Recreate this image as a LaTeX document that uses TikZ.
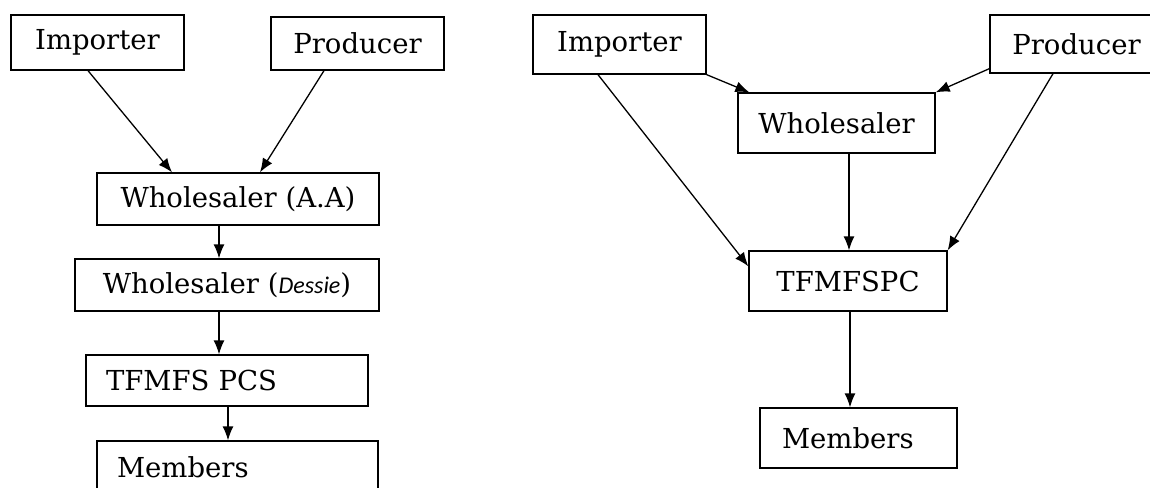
\documentclass[tikz,border=0pt]{standalone}
\usepackage{fontspec}
\setmainfont{DejaVu Serif}
\newfontfamily\carlito{Carlito}
\usetikzlibrary{arrows.meta}

\begin{document}
\begin{tikzpicture}[x=1pt, y=-1pt]

\tikzset{box/.style = {shape=rectangle, draw, line width=1.3pt, inner sep=0pt, font=\fontsize{27.5}{30}\selectfont}}
\tikzset{lbox/.style = {box, align=left, inner xsep=20pt}}
\tikzset{edge/.style = {-{Latex[length=14pt,width=11pt]}, line width=1.3pt}}

\useasboundingbox (0,0) rectangle (1150,487);
\clip (0,0) rectangle (1150,487);

%verticies (left chain)
\node[box, minimum width=173pt, minimum height=55pt] (imp1) at (97.5,42.5) {Importer};
\node[box, minimum width=173pt, minimum height=53pt] (prod1) at (357.5,43.5) {Producer};
\node[box, minimum width=282pt, minimum height=52pt] (whA) at (238,199) {Wholesaler (A.A)};
\node[box, minimum width=304pt, minimum height=52pt] (whD) at (227,285) {Wholesaler ({\carlito\itshape\fontsize{24}{26}\selectfont Dessie})};
\node[lbox, text width=242pt, minimum height=51pt] (pcs) at (227,380.5) {TFMFS PCS};
\node[lbox, text width=241pt, minimum height=52pt] (mem1) at (237.5,467) {Members};

%verticies (right net)
\node[box, minimum width=173pt, minimum height=59pt] (imp2) at (619.5,44.5) {Importer};
\node[box, minimum width=173pt, minimum height=58pt] (prod2) at (1076.5,44) {Producer};
\node[box, minimum width=197pt, minimum height=60pt] (wh2) at (836.5,123) {Wholesaler};
\node[box, minimum width=198pt, minimum height=60pt] (tf) at (848,281) {TFMFSPC};
\node[lbox, inner xsep=22pt, text width=153pt, minimum height=60pt] (mem2) at (858.5,438) {Members};

%edges (left)
\draw[edge] ([xshift=-9.5pt]imp1.south) -- ([xshift=-66pt]whA.north);
\draw[edge] ([xshift=-33.5pt]prod1.south) -- ([xshift=22pt]whA.north);
\draw[edge] ([xshift=-19pt]whA.south) -- ([xshift=-19pt]whA.south |- whD.north);
\draw[edge] ([xshift=-8pt]whD.south) -- ([xshift=-8pt]whD.south |- pcs.north);
\draw[edge] ([xshift=1pt]pcs.south) -- ([xshift=1pt]pcs.south |- mem1.north);

%edges (right)
\draw[edge] (imp2.south east) -- ([xshift=12pt]wh2.north west);
\draw[edge] ([yshift=5pt]prod2.south west) -- (wh2.north east);
\draw[edge] ([xshift=-21.5pt]imp2.south) -- ([yshift=-16pt]tf.north west);
\draw[edge] ([xshift=12.5pt]wh2.south) -- ([xshift=12.5pt]wh2.south |- tf.north);
\draw[edge] ([xshift=-23.5pt]prod2.south) -- (tf.north east);
\draw[edge] ([xshift=2pt]tf.south) -- ([xshift=2pt]tf.south |- mem2.north);

\end{tikzpicture}
\end{document}
